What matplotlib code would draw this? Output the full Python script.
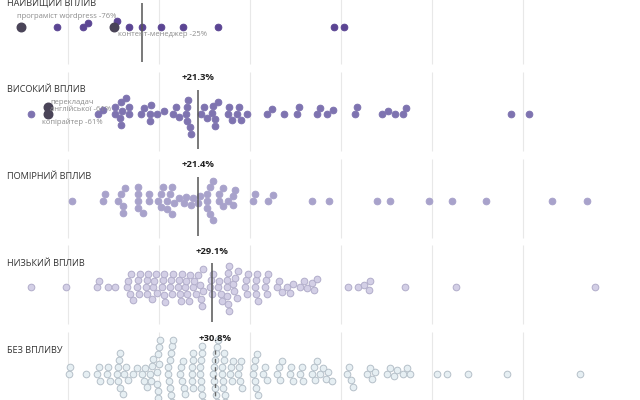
import matplotlib.pyplot as plt
import numpy as np

plt.rcParams['font.family'] = ['Open Sans', 'DejaVu Sans']

# groups of professions by AI impact, values = salary change, %
groups = ['НАЙВИЩИЙ ВПЛИВ', 'ВИСОКИЙ ВПЛИВ', 'ПОМІРНИЙ ВПЛИВ', 'НИЗЬКИЙ ВПЛИВ', 'БЕЗ ВПЛИВУ']
medians = [-9.3, 21.3, 21.4, 29.1, 30.8]
grid_ticks = [-50, 0, 50, 100, 150, 200]

highest = [-76, -56, -42, -39, -25, -23, -16.5, -9.5, 1, 13, 32.6, 96, 101.8]

high = [-70.5, -61, -61, -33.7, -30.6, -24.2, -24, -21.3, -21, -20.8, -20.6, -18,
        -16.6, -16.4, -9.9, -8.2, -5, -4.8, -4.6, -0.9, 2.6, 7.7, 9.3, 11.2, 15,
        15.2, 15.4, 16, 17.2, 17.6, 23.2, 24.7, 26.4, 29.2, 29.4, 30.8, 31, 32.6,
        38, 38.2, 40, 43, 44.1, 45, 48.2, 59.2, 61.9, 68.5, 75.7, 76.9, 86.6, 88.5,
        92.5, 95.8, 107.7, 109, 122.5, 126, 129.8, 133.9, 135.7, 193.4, 203.3]

moderate = [-47.8, -30.9, -29.5, -22.4, -21, -19.8, -19.8, -18.7, -11.4, -11.4,
            -11.4, -11.4, -9, -5.3, -5.3, -0.4, 0.9, 0.9, 2.2, 4.6, 4.6, 6, 7.1,
            7.1, 8.2, 11, 13.7, 14.8, 17.4, 18.5, 21.4, 22.5, 26.5, 26.5, 26.5, 28,
            28, 29.8, 29.8, 32.8, 32.8, 35.2, 35.2, 37.7, 40.8, 40.8, 41.9, 51.5,
            52.9, 59.9, 62.5, 84.2, 93.4, 119.6, 126.9, 148.2, 161, 179.5, 215.9, 235]

low = [-70.2, -51.1, -34.1, -32.8, -28.2, -24,
       -17.5, -16.8, -16, -15.2, -14.5, -12, -11.5, -11, -10.5, -7.2, -6.8, -6.4,
       -6, -3.8, -3.2, -2.5, -1.8, -1.2, 1.5, 2, 2.5, 3, 3.4, 6, 6.5, 7, 7.6, 10.4,
       11, 11.5, 12, 12.6, 14.3, 15, 15.6, 16.3, 17, 18.7, 19.5, 20.5, 21.5, 22.4,
       23.2, 23.6, 24, 24.4, 28, 28.5, 29, 29.6, 32.4, 33.2, 34, 34.6, 37.2, 37.4,
       37.6, 37.8, 38, 38.2, 38.4, 40.7, 41.4, 42, 42.7, 43.4, 47.3, 47.8, 48.4,
       48.9, 52.7, 53.1, 53.5, 54, 54.4, 58.2, 58.8, 59.3, 59.9, 64.8, 66.2, 67.6,
       70.3, 72, 73.6, 77.5, 79.4, 81.3, 84, 85.4, 86.8,
       103.8, 109.2, 112.8, 115.5, 115.9, 135, 163, 239.4]

no_impact = [-49.2, -48.8, -40.1, -34, -33.2, -32.4, -28.6, -27.8, -27,
             -23.1, -22.8, -22.4, -22, -21.7, -21.4, -19.8, -19, -18, -17, -14.3,
             -12.1, -9.3, -8.4, -7.5, -6.6, -4.9, -4.4, -3.8, -3.3,
             -1.2, -1, -0.8, -0.6, -0.4, -0.2, 0, 0.2, 0.4, 0.6,
             4.9, 5.2, 5.5, 5.8, 6.1, 6.4, 6.7, 7, 7.3, 7.7,
             11.5, 12, 12.6, 13.2, 13.8, 14.3, 18, 18.1, 18.3, 18.5, 18.6, 18.8,
             22.5, 22.7, 22.9, 23.1, 23.3, 23.5, 23.7, 23.9, 24.1, 24.3,
             29.7, 30, 30.3, 30.6, 30.9, 31.2, 31.5, 31.8, 32.1, 32.4,
             34.6, 34.8, 35.1, 35.3, 35.6, 35.8, 36.1, 36.3, 39, 39.6, 40.1, 40.7,
             43.4, 43.9, 44.5, 45, 45.6, 51.6, 52, 52.5, 53, 53.5, 54, 54.4,
             57.1, 58.2, 59.3, 64.8, 65.7, 66.6, 67.6, 72, 72.8, 73.6, 77.5, 78.3,
             79.1, 84, 84.9, 85.8, 86.8, 88.5, 90, 91.5, 93, 95, 103.3, 104.4,
             105.5, 106.6, 114.3, 115.8, 117.2, 118.7, 125.3, 127, 129, 130.8,
             134, 136, 137.9, 152.7, 158.2, 169.8, 191.2, 231.3]

series = [highest, high, moderate, low, no_impact]

# highlighted professions: (group, value, label)
highlights = [(0, -76, 'програміст wordpress -76%'),
              (0, -25, 'контент-менеджер -25%'),
              (1, -61, 'перекладач\nанглійської -61%'),
              (1, -61, 'копірайтер -61%')]
# label placement in pixels relative to the point on the row's baseline
hl_offsets = [(-4, 11), (5, -7), (2, 8), (-6, -8)]

fills = ['#5b4593', '#7e73b0', '#a8a2cb', '#d3cfe6', '#e6eff3']
edges = ['#5b4593', '#7e73b0', '#a8a2cb', '#b1adca', '#b5c0c9']

W, H = 640, 400
zero_px, px_per_pct = 159, 1.82
xmin = -zero_px / px_per_pct
xmax = (W - zero_px) / px_per_pct
baselines = [27 + 86.8 * i for i in range(5)]
D = 7.0  # collision diameter in px


def swarm(xs, d):
    xs = np.asarray(xs, dtype=float)
    ys = np.zeros(len(xs))
    px, py = [], []
    for i in np.argsort(xs, kind='stable'):
        x = xs[i]
        near = [(a, b) for a, b in zip(px, py) if abs(a - x) < d]
        cands = [0.0]
        for a, b in near:
            dy = np.sqrt(d * d - (a - x) ** 2)
            cands += [b - dy, b + dy]
        cands.sort(key=abs)
        for c in cands:
            if all((a - x) ** 2 + (b - c) ** 2 >= d * d - 1e-6 for a, b in near):
                ys[i] = c
                break
        px.append(x)
        py.append(ys[i])
    return ys


fig = plt.figure(figsize=(W / 100, H / 100), dpi=100)
ax = fig.add_axes([0, 0, 1, 1])
ax.set_xlim(xmin, xmax)
ax.set_ylim(H, 0)
ax.axis('off')

label_x = xmin + 7 / px_per_pct

for gi, (name, vals) in enumerate(zip(groups, series)):
    base = baselines[gi]
    ax.vlines(grid_ticks, base - 42, base + 37, color='#e8e8e8', lw=0.8, zorder=0)

    vals = np.array(vals, dtype=float)
    offs = swarm(vals * px_per_pct, D)
    ax.scatter(vals, base + offs, s=23, c=fills[gi], edgecolors=edges[gi],
               linewidths=0.7, zorder=2)

    ax.text(label_x, base - 24, name, fontsize=6.6, color='#333333',
            ha='left', va='center')

    m = medians[gi]
    if gi == 4:
        ax.vlines(m, base - 24, base + 35, color='#666666', lw=1,
                  linestyles=(0, (3, 3)), zorder=3)
    else:
        ax.vlines(m, base - 24, base + 35, color='#555555', lw=1.1, zorder=3)
    if base - 36 > 5:
        ax.text(m, base - 36, f'{m:+.1f}%', fontsize=6.8, fontweight='bold',
                color='#222222', ha='center', va='center')

    # highlighted points for this group
    used = set()
    for hi, (g, v, lab) in enumerate(highlights):
        if g != gi:
            continue
        idx = [k for k in range(len(vals)) if vals[k] == v and k not in used][0]
        used.add(idx)
        ax.scatter([v], [base + offs[idx]], s=38, c='#4a4458',
                   edgecolors='#4a4458', zorder=4)
        dx, dy = hl_offsets[hi]
        ax.annotate(lab, (v, base), xytext=(dx, dy), textcoords='offset pixels',
                    fontsize=5.5, color='#8c8c8c', ha='left', va='center',
                    linespacing=1.0, zorder=5)

fig.savefig('out.png', dpi=100)
